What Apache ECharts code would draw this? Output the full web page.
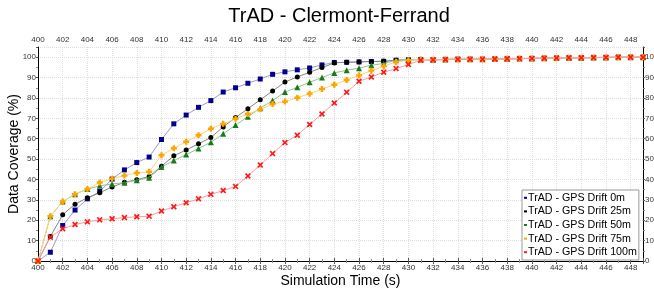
<!DOCTYPE html>
<html>
<head>
<meta charset="utf-8">
<script src="https://cdn.jsdelivr.net/npm/echarts@6/dist/echarts.min.js"></script>
<style>
  html, body { margin: 0; padding: 0; background: #fff; }
  #chart { width: 654px; height: 290px; }
</style>
</head>
<body>
<div id="chart"></div>
<script>
// simulation time 400..449 s
var startTime = 400;
var seriesNames = ['TrAD - GPS Drift 0m', 'TrAD - GPS Drift 25m', 'TrAD - GPS Drift 50m', 'TrAD - GPS Drift 75m', 'TrAD - GPS Drift 100m'];

// 400..431
var drift0 = [0, 4.3, 17.4, 25, 30.5, 34.1, 40.2, 44.7, 48.3, 51, 59.6, 67.3, 71.6, 75.4, 78.7, 82.9, 85, 87.2,
  89.3, 91.6, 92.8, 93.8, 94.7, 96.2, 97.4, 97.5, 97.7, 97.9, 98, 98.5, 98.7, 98.9];
var drift25 = [0, 12, 22.7, 27.9, 31, 33.5, 36.3, 38.6, 39.9, 41.4, 46.5, 51.6, 54.5, 57.5, 60.6, 65.8, 70.4, 74.7,
  79.1, 83.4, 87.8, 90.3, 92.6, 94.9, 97.2, 97.5, 97.7, 97.9, 98, 98.5, 98.7, 98.9];
var drift50 = [0, 22, 29.2, 32.8, 35.3, 36.9, 37.8, 38.4, 39.6, 40.9, 46.1, 49.3, 52.2, 55.2, 58.3, 62.4, 66.7, 70.8,
  75, 78.7, 82.9, 85.2, 87.7, 90, 92.3, 93.6, 94.6, 96.1, 96.9, 98.5, 98.7, 98.9];
var drift75 = [0, 22, 29.2, 32.8, 35.3, 38.5, 40.4, 41.9, 43.2, 43.8, 51.9, 55.3, 58.5, 61.7, 64.9, 67.3, 69.8, 72.1,
  74.4, 77, 78.2, 80.1, 82.1, 84.4, 86.5, 88.8, 91.1, 93.4, 95.6, 97.7, 98.5, 98.9];
var drift100 = [0, 11.7, 15.8, 17.9, 19.2, 20.2, 20.7, 21.3, 21.7, 22, 24.5, 26.6, 28.6, 30.5, 32.7, 34.6, 36.6, 41.7,
  47.1, 52.7, 58.1, 61.7, 67, 72.1, 77.5, 82.8, 88.2, 90.3, 92.6, 94.4, 96.4, 98.5];
// 432..449, all runs overlap here
var tail = [98.7, 98.9, 99, 99, 99, 99.1, 99.2, 99.3, 99.4, 99.5, 99.6, 99.7, 99.7, 99.8, 99.9, 100, 100, 100];

var markerColors = ['#00008b', '#000000', '#1a7a1a', '#ffa500', '#ff1a1a'];
var lineColors = ['#9a9ad6', '#858585', '#8cc78c', '#ffd27a', '#ff9a9a'];
var symbols = [
  'rect',
  'circle',
  'triangle',
  'path://M3,0H7V3H10V7H7V10H3V7H0V3H3Z',
  'path://M2,0L5,3L8,0L10,2L7,5L10,8L8,10L5,7L2,10L0,8L3,5L0,2Z'
];
var sizes = [5, 5, 6, 6, 6];

function toPoints(arr) {
  var full = arr.concat(tail);
  return full.map(function (v, i) { return [startTime + i, v]; });
}

var allData = [drift0, drift25, drift50, drift75, drift100];
var series = allData.map(function (arr, k) {
  return {
    name: seriesNames[k],
    type: 'line',
    data: toPoints(arr),
    symbol: symbols[k],
    symbolSize: sizes[k],
    showAllSymbol: true,
    itemStyle: { color: markerColors[k] },
    lineStyle: { color: lineColors[k], width: 1 },
    z: 2 + k
  };
});

var labelFont = { fontSize: 8, color: '#333', fontFamily: 'Liberation Sans' };
var myChart = echarts.init(document.getElementById('chart'));
var option = {
  animation: false,
  title: {
    text: 'TrAD - Clermont-Ferrand',
    left: 334, top: 1, textAlign: 'center',
    textStyle: { fontSize: 20, fontWeight: 'normal', color: '#000', fontFamily: 'Liberation Sans' }
  },
  legend: {
    data: seriesNames.map(function (n, k) {
      return { name: n, icon: 'rect', itemStyle: { color: markerColors[k] } };
    }),
    orient: 'vertical',
    left: 522, top: 190,
    itemWidth: 3, itemHeight: 2, itemGap: 0,
    padding: [1, 2, 1, 2],
    backgroundColor: '#fff',
    borderColor: '#999', borderWidth: 1,
    textStyle: { fontSize: 10.7, lineHeight: 13.6, color: '#000', fontFamily: 'Liberation Sans', padding: [0, 0, 0, -4] }
  },
  grid: { left: 38, right: 11, top: 47, bottom: 29, outerBoundsMode: 'none', containLabel: false },
  xAxis: [{
    type: 'value', min: 400, max: 449, interval: 2,
    name: 'Simulation Time (s)', nameLocation: 'middle', nameGap: 13, nameMoveOverlap: false,
    nameTextStyle: { fontSize: 14, color: '#000', fontFamily: 'Liberation Sans', verticalAlign: 'top' },
    axisLine: { lineStyle: { color: '#000' } },
    axisTick: { length: 3, lineStyle: { color: '#555' } },
    minorTick: { show: true, splitNumber: 2, length: 2, lineStyle: { color: '#888' } },
    axisLabel: Object.assign({ margin: 3, showMaxLabel: false }, labelFont),
    splitLine: { lineStyle: { color: '#ddd', type: 'dotted' } }
  }, {
    type: 'value', min: 400, max: 449, interval: 2, position: 'top',
    axisLine: { lineStyle: { color: '#000' } },
    axisTick: { length: 3, lineStyle: { color: '#555' } },
    minorTick: { show: true, splitNumber: 2, length: 2, lineStyle: { color: '#888' } },
    axisLabel: Object.assign({ margin: 3, showMaxLabel: false }, labelFont),
    splitLine: { show: false }
  }],
  yAxis: [{
    type: 'value', min: 0, max: 105, interval: 10,
    name: 'Data Coverage (%)', nameLocation: 'middle', nameGap: 17, nameMoveOverlap: false,
    nameTextStyle: { fontSize: 14, color: '#000', fontFamily: 'Liberation Sans' },
    axisLine: { show: true, lineStyle: { color: '#000' } },
    axisTick: { show: true, length: 2, lineStyle: { color: '#555' } },
    minorTick: { show: true, splitNumber: 2, length: 2, lineStyle: { color: '#888' } },
    axisLabel: Object.assign({ margin: 2, showMaxLabel: false }, labelFont),
    splitLine: { lineStyle: { color: '#ddd', type: 'dotted' } }
  }, {
    type: 'value', min: 0, max: 105, interval: 10, position: 'right',
    axisLine: { show: true, lineStyle: { color: '#000' } },
    axisTick: { show: true, length: 2, lineStyle: { color: '#555' } },
    minorTick: { show: true, splitNumber: 2, length: 2, lineStyle: { color: '#888' } },
    axisLabel: Object.assign({ margin: 2, showMaxLabel: false }, labelFont),
    splitLine: { show: false }
  }],
  series: series
};
myChart.setOption(option);
</script>
</body>
</html>
